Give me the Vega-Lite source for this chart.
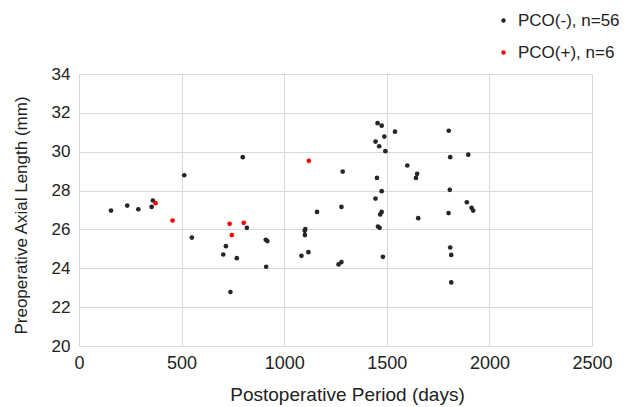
{
  "$schema": "https://vega.github.io/schema/vega-lite/v6.json",
  "width": 513,
  "height": 272,
  "autosize": {"type": "none"},
  "padding": {"left": 79, "top": 74, "right": 38, "bottom": 61},
  "background": "white",
  "config": {
    "font": "Liberation Sans",
    "view": {"stroke": null}
  },
  "data": {
    "values": [
      {"days": 156, "al": 26.97, "group": "PCO(-), n=56"},
      {"days": 235, "al": 27.23, "group": "PCO(-), n=56"},
      {"days": 289, "al": 27.04, "group": "PCO(-), n=56"},
      {"days": 354, "al": 27.16, "group": "PCO(-), n=56"},
      {"days": 360, "al": 27.49, "group": "PCO(-), n=56"},
      {"days": 513, "al": 28.79, "group": "PCO(-), n=56"},
      {"days": 550, "al": 25.58, "group": "PCO(-), n=56"},
      {"days": 798, "al": 29.72, "group": "PCO(-), n=56"},
      {"days": 818, "al": 26.08, "group": "PCO(-), n=56"},
      {"days": 716, "al": 25.14, "group": "PCO(-), n=56"},
      {"days": 703, "al": 24.71, "group": "PCO(-), n=56"},
      {"days": 769, "al": 24.52, "group": "PCO(-), n=56"},
      {"days": 738, "al": 22.78, "group": "PCO(-), n=56"},
      {"days": 910, "al": 25.47, "group": "PCO(-), n=56"},
      {"days": 918, "al": 25.40, "group": "PCO(-), n=56"},
      {"days": 912, "al": 24.08, "group": "PCO(-), n=56"},
      {"days": 1103, "al": 26.02, "group": "PCO(-), n=56"},
      {"days": 1100, "al": 25.93, "group": "PCO(-), n=56"},
      {"days": 1101, "al": 25.71, "group": "PCO(-), n=56"},
      {"days": 1160, "al": 26.90, "group": "PCO(-), n=56"},
      {"days": 1084, "al": 24.64, "group": "PCO(-), n=56"},
      {"days": 1118, "al": 24.83, "group": "PCO(-), n=56"},
      {"days": 1265, "al": 24.20, "group": "PCO(-), n=56"},
      {"days": 1279, "al": 24.32, "group": "PCO(-), n=56"},
      {"days": 1285, "al": 28.98, "group": "PCO(-), n=56"},
      {"days": 1279, "al": 27.16, "group": "PCO(-), n=56"},
      {"days": 1455, "al": 31.47, "group": "PCO(-), n=56"},
      {"days": 1475, "al": 31.34, "group": "PCO(-), n=56"},
      {"days": 1540, "al": 31.03, "group": "PCO(-), n=56"},
      {"days": 1488, "al": 30.78, "group": "PCO(-), n=56"},
      {"days": 1445, "al": 30.52, "group": "PCO(-), n=56"},
      {"days": 1463, "al": 30.28, "group": "PCO(-), n=56"},
      {"days": 1493, "al": 30.03, "group": "PCO(-), n=56"},
      {"days": 1452, "al": 28.65, "group": "PCO(-), n=56"},
      {"days": 1475, "al": 27.97, "group": "PCO(-), n=56"},
      {"days": 1445, "al": 27.59, "group": "PCO(-), n=56"},
      {"days": 1475, "al": 26.90, "group": "PCO(-), n=56"},
      {"days": 1468, "al": 26.77, "group": "PCO(-), n=56"},
      {"days": 1457, "al": 26.15, "group": "PCO(-), n=56"},
      {"days": 1465, "al": 26.08, "group": "PCO(-), n=56"},
      {"days": 1481, "al": 24.59, "group": "PCO(-), n=56"},
      {"days": 1600, "al": 29.29, "group": "PCO(-), n=56"},
      {"days": 1648, "al": 28.86, "group": "PCO(-), n=56"},
      {"days": 1642, "al": 28.65, "group": "PCO(-), n=56"},
      {"days": 1653, "al": 26.58, "group": "PCO(-), n=56"},
      {"days": 1802, "al": 31.08, "group": "PCO(-), n=56"},
      {"days": 1809, "al": 29.72, "group": "PCO(-), n=56"},
      {"days": 1897, "al": 29.85, "group": "PCO(-), n=56"},
      {"days": 1807, "al": 28.04, "group": "PCO(-), n=56"},
      {"days": 1890, "al": 27.40, "group": "PCO(-), n=56"},
      {"days": 1913, "al": 27.11, "group": "PCO(-), n=56"},
      {"days": 1921, "al": 26.97, "group": "PCO(-), n=56"},
      {"days": 1801, "al": 26.84, "group": "PCO(-), n=56"},
      {"days": 1809, "al": 25.07, "group": "PCO(-), n=56"},
      {"days": 1814, "al": 24.69, "group": "PCO(-), n=56"},
      {"days": 1814, "al": 23.27, "group": "PCO(-), n=56"},
      {"days": 373, "al": 27.35, "group": "PCO(+), n=6"},
      {"days": 456, "al": 26.46, "group": "PCO(+), n=6"},
      {"days": 734, "al": 26.29, "group": "PCO(+), n=6"},
      {"days": 803, "al": 26.34, "group": "PCO(+), n=6"},
      {"days": 745, "al": 25.71, "group": "PCO(+), n=6"},
      {"days": 1120, "al": 29.53, "group": "PCO(+), n=6"}
    ]
  },
  "mark": {"type": "circle", "size": 22, "opacity": 1},
  "encoding": {
    "x": {
      "field": "days", "type": "quantitative",
      "scale": {"domain": [0, 2500], "nice": false, "zero": false},
      "axis": {
        "values": [0, 500, 1000, 1500, 2000, 2500],
        "format": "d",
        "title": "Postoperative Period (days)",
        "ticks": false, "domainColor": "#d9d9d9", "gridColor": "#d9d9d9",
        "labelFontSize": 18, "labelColor": "#222", "labelPadding": 8,
        "titleFontSize": 19, "titleFontWeight": "normal", "titleColor": "#222", "titlePadding": 13,
        "titleX": 268,
        "labelFlush": false
      }
    },
    "y": {
      "field": "al", "type": "quantitative",
      "scale": {"domain": [20, 34], "nice": false, "zero": false},
      "axis": {
        "values": [20, 22, 24, 26, 28, 30, 32, 34],
        "title": "Preoperative Axial Length (mm)",
        "ticks": false, "domainColor": "#d9d9d9", "gridColor": "#d9d9d9",
        "labelFontSize": 17, "labelColor": "#222", "labelPadding": 9,
        "titleFontSize": 17, "titleFontWeight": "normal", "titleColor": "#222", "titlePadding": 21,
        "titleY": 141,
        "labelFlush": false
      }
    },
    "color": {
      "field": "group", "type": "nominal",
      "scale": {"domain": ["PCO(-), n=56", "PCO(+), n=6"], "range": ["#262626", "#ff0000"]},
      "legend": {
        "title": null, "orient": "none", "legendX": 416, "legendY": -62,
        "labelFontSize": 17, "labelColor": "#222", "symbolSize": 20, "symbolType": "circle",
        "rowPadding": 14, "labelOffset": 6
      }
    }
  }
}
